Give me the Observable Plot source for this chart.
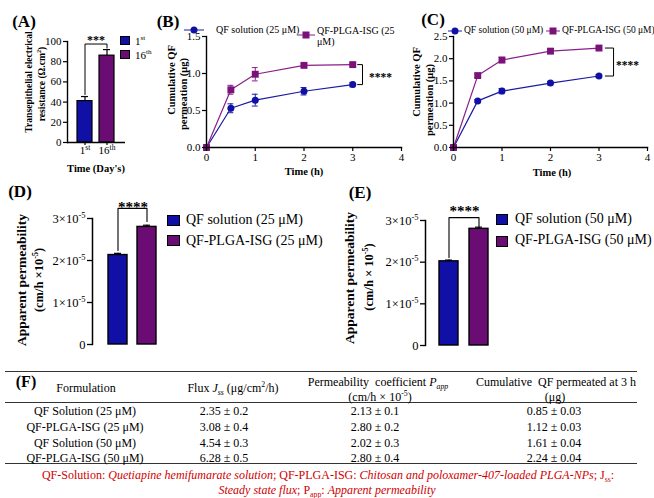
<!DOCTYPE html>
<html><head><meta charset="utf-8">
<script src="https://cdn.jsdelivr.net/npm/d3@7"></script>
<script src="https://cdn.jsdelivr.net/npm/@observablehq/plot@0.6"></script>
<style>
body{margin:0;background:#fff;}
#fig{position:relative;width:654px;height:498px;overflow:hidden;font-family:"Liberation Serif",serif;color:#000;background:#fff;}
.abs{position:absolute;white-space:nowrap;line-height:1;}
.c{transform:translate(-50%,-50%);}
.l{transform:translate(0,-50%);}
.rot{transform:translate(-50%,-50%) rotate(-90deg);}
.plot{position:absolute;}
.hline{position:absolute;height:0;border-top:1.3px solid #333;}
.sw{position:absolute;border:1.4px solid #000;box-sizing:border-box;}
sup,sub{font-size:65%;line-height:0;}
</style></head><body><div id="fig"></div>
<script>
// ---------- DATA ----------
const teerDays = ["1st", "16th"];
const teerValues = [41, 86];
const teerErr = [4.5, 6];

const timeH = [0, 0.5, 1, 2, 3];
const qfSol25 = [0, 0.53, 0.64, 0.76, 0.85];
const qfSol25Err = [0, 0.06, 0.08, 0.05, 0.03];
const qfPlga25 = [0, 0.78, 0.99, 1.11, 1.12];
const qfPlga25Err = [0, 0.06, 0.09, 0.02, 0.02];
const qfSol50 = [0, 1.05, 1.27, 1.45, 1.61];
const qfSol50Err = [0, 0.03, 0.06, 0.04, 0.03];
const qfPlga50 = [0, 1.62, 1.97, 2.17, 2.24];
const qfPlga50Err = [0, 0.04, 0.06, 0.04, 0.03];

const groups25 = ["QF solution (25 μM)", "QF-PLGA-ISG (25 μM)"];
const groups50 = ["QF solution (50 μM)", "QF-PLGA-ISG (50 μM)"];
const papp25 = [2.13e-5, 2.80e-5];
const papp50 = [2.02e-5, 2.80e-5];
const pappErr25 = [0.04e-5, 0.04e-5];
const pappErr50 = [0.03e-5, 0.04e-5];

const formulations = ["QF Solution (25 μM)", "QF-PLGA-ISG (25 μM)", "QF Solution (50 μM)", "QF-PLGA-ISG (50 μM)"];
const fluxJss = ["2.35 ± 0.2", "3.08 ± 0.4", "4.54 ± 0.3", "6.28 ± 0.5"];
const pappCoef = ["2.13 ± 0.1", "2.80 ± 0.2", "2.02 ± 0.3", "2.80 ± 0.4"];
const cumulative3h = ["0.85 ± 0.03", "1.12 ± 0.03", "1.61 ± 0.04", "2.24 ± 0.04"];

// ---------- HELPERS ----------
const BLUE = "#1010a6", PURPLE = "#6a0c74", LBLUE = "#1a1aa4", LPURPLE = "#8a1e8a", SQ = "#7a127a";
const fig = document.getElementById("fig");
function put(html, x, y, cls, style) {
  const d = document.createElement("div");
  d.className = "abs " + (cls || "");
  d.style.left = x + "px"; d.style.top = y + "px";
  if (style) Object.assign(d.style, style);
  d.innerHTML = html; fig.appendChild(d); return d;
}
function box(x, y, w, h, fill) {
  const d = document.createElement("div");
  d.className = "sw";
  Object.assign(d.style, {left: x + "px", top: y + "px", width: w + "px", height: h + "px", background: fill});
  fig.appendChild(d);
}
function hline(x1, x2, y) {
  const d = document.createElement("div");
  d.className = "hline";
  Object.assign(d.style, {left: x1 + "px", top: y + "px", width: (x2 - x1) + "px"});
  fig.appendChild(d);
}
function addPlot(p, x, y) { p.classList.add("plot"); p.style.left = x + "px"; p.style.top = y + "px"; fig.appendChild(p); }
function supify(svg) {
  d3.select(svg).selectAll("text").each(function () {
    const t = this.textContent; const i = t.indexOf("^"); if (i < 0) return;
    this.textContent = t.slice(0, i);
    d3.select(this).append("tspan").attr("baseline-shift", "super").attr("font-size", "0.68em").text(t.slice(i + 1));
  });
}
const baseStyle = {fontFamily: "Liberation Serif, serif", fontSize: "11px", background: "transparent", overflow: "visible", color: "#000"};

// ---------- PANEL A ----------
const teerData = teerDays.map((d, i) => ({day: d, v: teerValues[i], e: teerErr[i]}));
const bracketA = [{day: "1st", y: 47.5}, {day: "1st", y: 97.5}, {day: "16th", y: 97.5}, {day: "16th", y: 93.5}];
const pA = Plot.plot({
  width: 200, height: 180, marginLeft: 67, marginTop: 41, marginBottom: 38, marginRight: 75,
  style: baseStyle,
  x: {domain: teerDays, paddingInner: 0.31, paddingOuter: 0.444, axis: null},
  y: {domain: [0, 100], axis: null},
  color: {domain: teerDays, range: [BLUE, PURPLE]},
  marks: [
    Plot.barY(teerData, {x: "day", y: "v", fill: "day", stroke: "#000", strokeWidth: 1.2}),
    Plot.ruleX(teerData, {x: "day", y1: "v", y2: d => d.v + d.e, strokeWidth: 1.2}),
    Plot.tickY(teerData, {x: "day", y: d => d.v + d.e, insetLeft: 4, insetRight: 4, strokeWidth: 1.2}),
    Plot.line(bracketA, {x: "day", y: "y", strokeWidth: 1}),
    Plot.text([{day: "1st", y: 104}], {x: "day", y: "y", text: () => "***", dx: 11, dy: 3, fontSize: 12, fontWeight: "bold"}),
    Plot.frame({anchor: "left", strokeWidth: 1.4}),
    Plot.ruleY([0], {strokeWidth: 1.4}),
    Plot.axisY({ticks: [0, 20, 40, 60, 80, 100], tickSize: 4, tickPadding: 2, label: null, fontSize: 11, strokeWidth: 1.2}),
    Plot.axisX({tickSize: 3, tickPadding: 1, tickFormat: d => d.replace(/^(\d+)/, "$1^"), label: null, fontSize: 11, strokeWidth: 1.2})
  ]
});
supify(pA);
addPlot(pA, 0, 0);

// ---------- PANELS B, C ----------
function cumPlot(sol, solE, plga, plgaE, ymax, width, marginLeft, marginRight, bx0, bx1, starsX) {
  const s = timeH.map((t, i) => ({t, v: sol[i], e: solE[i]}));
  const p = timeH.map((t, i) => ({t, v: plga[i], e: plgaE[i]}));
  const n = timeH.length - 1;
  const br = [{x: bx0, y: plga[n]}, {x: bx1, y: plga[n]}, {x: bx1, y: sol[n]}, {x: bx0, y: sol[n]}];
  const errs = (data, col) => [
    Plot.ruleX(data.filter(d => d.e > 0), {x: "t", y1: d => d.v - d.e, y2: d => d.v + d.e, stroke: col, strokeWidth: 1}),
    Plot.ruleY(data.filter(d => d.e > 0), {y: d => d.v + d.e, x1: d => d.t - 0.06, x2: d => d.t + 0.06, stroke: col, strokeWidth: 1}),
    Plot.ruleY(data.filter(d => d.e > 0), {y: d => d.v - d.e, x1: d => d.t - 0.06, x2: d => d.t + 0.06, stroke: col, strokeWidth: 1})
  ];
  return Plot.plot({
    width, height: 180, marginLeft, marginRight, marginTop: 36, marginBottom: 33,
    style: baseStyle,
    x: {domain: [0, 4], axis: null},
    y: {domain: [0, ymax], axis: null},
    marks: [
      Plot.line(s, {x: "t", y: "v", stroke: LBLUE, strokeWidth: 1.2}),
      Plot.line(p, {x: "t", y: "v", stroke: LPURPLE, strokeWidth: 1.2}),
      ...errs(s, LBLUE), ...errs(p, LPURPLE),
      Plot.dot(s, {x: "t", y: "v", r: 3.5, fill: BLUE}),
      Plot.dot(p, {x: "t", y: "v", r: 3.9, symbol: "square", fill: SQ}),
      Plot.line(br, {x: "x", y: "y", strokeWidth: 1}),
      Plot.text([{x: starsX, y: (plga[n] + sol[n]) / 2}], {x: "x", y: "y", text: () => "****", fontSize: 11.5, fontWeight: "bold", dy: 3}),
      Plot.frame({anchor: "left", strokeWidth: 1.4}),
      Plot.frame({anchor: "bottom", strokeWidth: 1.4}),
      Plot.axisX({ticks: [0, 1, 2, 3, 4], tickSize: 4, tickPadding: 2, tickFormat: d3.format("d"), label: null, fontSize: 11, strokeWidth: 1.2}),
      Plot.axisY({ticks: d3.range(0, ymax + 1e-9, 0.5), tickSize: 4, tickPadding: 2, tickFormat: d3.format(".1f"), label: null, fontSize: 11, strokeWidth: 1.2})
    ]
  });
}
addPlot(cumPlot(qfSol25, qfSol25Err, qfPlga25, qfPlga25Err, 1.5, 260, 56, 9, 3.1, 3.2, 3.57), 150, 0);
addPlot(cumPlot(qfSol50, qfSol50Err, qfPlga50, qfPlga50Err, 2.5, 254, 53, 7, 3.13, 3.3, 3.59), 400, 0);

// ---------- PANELS D, E ----------
function pappPlot(groups, vals, errs, width, ml, mt, mb, mr, pi, po, brk, starsY) {
  const data = groups.map((g, i) => ({g, v: vals[i], e: errs[i]}));
  const br = [{g: groups[0], y: brk[0]}, {g: groups[0], y: brk[1]}, {g: groups[1], y: brk[1]}, {g: groups[1], y: brk[2]}];
  const step = (width - ml - mr) / (2 - pi + 2 * po);
  const svg = Plot.plot({
    width, height: 180, marginLeft: ml, marginTop: mt, marginBottom: mb, marginRight: mr,
    style: baseStyle,
    x: {domain: groups, paddingInner: pi, paddingOuter: po, axis: null},
    y: {domain: [0, 3e-5], axis: null},
    color: {domain: groups, range: [BLUE, PURPLE]},
    marks: [
      Plot.barY(data, {x: "g", y: "v", fill: "g", stroke: "#000", strokeWidth: 1.4}),
      Plot.ruleX(data, {x: "g", y1: "v", y2: d => d.v + d.e, strokeWidth: 1.2}),
      Plot.tickY(data, {x: "g", y: d => d.v + d.e, insetLeft: 6, insetRight: 6, strokeWidth: 1.2}),
      Plot.line(br, {x: "g", y: "y", strokeWidth: 1.1}),
      Plot.text([{g: groups[0], y: starsY}], {x: "g", y: "y", text: () => "****", dx: step / 2, dy: 4, fontSize: 15, fontWeight: "bold"}),
      Plot.frame({anchor: "left", strokeWidth: 1.5}),
      Plot.axisY({ticks: [0, 1e-5, 2e-5, 3e-5], tickSize: 5, tickPadding: 2, label: null, fontSize: 12.5, strokeWidth: 1.3,
        tickFormat: d => d === 0 ? "0" : `${Math.round(d * 1e5)}×10^-5`})
    ]
  });
  supify(svg);
  return svg;
}
addPlot(pappPlot(groups25, papp25, pappErr25, 180, 92, 38, 16, 8, 1 / 3, 0.5, [2.24e-5, 3.24e-5, 2.93e-5], 3.36e-5), 0, 180);
addPlot(pappPlot(groups50, papp50, pappErr50, 180, 95, 40, 15, 8, 0.355, 0.42, [2.11e-5, 3.07e-5, 2.85e-5], 3.33e-5), 330, 180);

// ---------- TEXT: panel A ----------
put("<b>(A)</b>", 24, 21, "c", {fontSize: "17px"});
put("<b>Transepithelial electrical</b>", 29, 82, "rot", {fontSize: "9.6px"});
put("<b>resistance (Ω.cm<sup>2</sup>)</b>", 42, 84, "rot", {fontSize: "9.6px"});
put("<b>Time (Day's)</b>", 96, 169, "c", {fontSize: "10.5px"});
box(120, 36, 10, 9, BLUE); box(120, 50, 10, 9, PURPLE);
put("1<sup>st</sup>", 135, 41, "l", {fontSize: "11px"});
put("16<sup>th</sup>", 135, 55, "l", {fontSize: "11px"});

// ---------- TEXT: panel B ----------
put("<b>(B)</b>", 168, 21, "c", {fontSize: "17px"});
put("<b>Cumulative QF</b>", 172, 80, "rot", {fontSize: "10.5px"});
put("<b>permeation (μg)</b>", 184, 94, "rot", {fontSize: "10.5px"});
put("<b>Time (h)</b>", 304, 172, "c", {fontSize: "10.5px"});
const glyph = (col, sq, w) => `<svg width="${w}" height="9" style="display:block"><line x1="0" x2="${w}" y1="4.5" y2="4.5" stroke="${col}" stroke-width="1.2"/>` +
  (sq ? `<rect x="${w / 2 - 3.5}" y="1" width="7" height="7" fill="${SQ}"/>` : `<circle cx="${w / 2}" cy="4.5" r="3.5" fill="${BLUE}"/>`) + `</svg>`;
put(glyph(LBLUE, false, 20), 184, 30, "l");
put("QF solution (25 μM)", 216, 30, "l", {fontSize: "10px"});
put(glyph(LPURPLE, true, 18), 297, 35, "l");
put("QF-PLGA-ISG (25<br>μM)", 317, 36, "l", {fontSize: "10px", lineHeight: "11px"});

// ---------- TEXT: panel C ----------
put("<b>(C)</b>", 433, 19, "c", {fontSize: "17px"});
put("<b>Cumulative QF</b>", 417, 82, "rot", {fontSize: "10.5px"});
put("<b>permeation (μg)</b>", 430, 100, "rot", {fontSize: "10.5px"});
put("<b>Time (h)</b>", 552, 173, "c", {fontSize: "10.5px"});
put(glyph(LBLUE, false, 14), 448, 31, "l");
put("QF solution (50 μM)", 464, 31, "l", {fontSize: "9.5px"});
put(glyph(LPURPLE, true, 14), 546, 31, "l");
put("QF-PLGA-ISG (50 μM)", 562, 31, "l", {fontSize: "9.5px"});

// ---------- TEXT: panels D, E ----------
put("<b>(D)</b>", 20, 191, "c", {fontSize: "17px"});
put("<b>Apparent permeability</b>", 22, 280, "rot", {fontSize: "13.5px"});
put("<b>(cm/h ×10<sup>-5</sup>)</b>", 39, 280, "rot", {fontSize: "12.5px"});
box(167, 215, 13, 11, BLUE); box(167, 235, 13, 11, PURPLE);
put(groups25[0], 186, 220, "l", {fontSize: "14px"});
put(groups25[1], 186, 241, "l", {fontSize: "14px"});

put("<b>(E)</b>", 360, 192, "c", {fontSize: "17px"});
put("<b>Apparent permeability</b>", 350, 278, "rot", {fontSize: "13.5px"});
put("<b>(cm/h × 10<sup>-5</sup>)</b>", 369, 277, "rot", {fontSize: "12.5px"});
box(496, 214, 12, 11, BLUE); box(496, 236, 12, 11, PURPLE);
put(groups50[0], 515, 219, "l", {fontSize: "14px"});
put(groups50[1], 515, 240, "l", {fontSize: "14px"});

// ---------- TABLE F ----------
hline(5, 637, 371); hline(5, 637, 402); hline(5, 637, 463);
put("<b>(F)</b>", 26, 382, "c", {fontSize: "16px"});
const ts = {fontSize: "12px"};
put("Formulation", 86, 388, "c", ts);
put("Flux <i>J<sub>ss</sub></i> (μg/cm<sup>2</sup>/h)", 233, 388, "c", ts);
put("Permeability&nbsp; coefficient <i>P<sub>app</sub></i>", 378, 382, "c", ts);
put("(cm/h × 10<sup>-5</sup>)", 380, 396.5, "c", ts);
put("Cumulative&nbsp; QF permeated at 3 h", 556, 382, "c", ts);
put("(μg)", 555, 396.5, "c", ts);
const rowY = [411, 427, 443, 458];
formulations.forEach((f, i) => {
  put(f, 85, rowY[i], "c", ts);
  put(fluxJss[i], 224, rowY[i], "c", ts);
  put(pappCoef[i], 375, rowY[i], "c", ts);
  put(cumulative3h[i], 554, rowY[i], "c", ts);
});
const red = {fontSize: "12px", color: "#d00000"};
put("QF-Solution: <i>Quetiapine hemifumarate solution</i>; QF-PLGA-ISG: <i>Chitosan and poloxamer-407-loaded PLGA-NPs</i>; J<sub>ss</sub>:", 328, 475, "c", red);
put("<i>Steady state flux</i>; P<sub>app</sub>: <i>Apparent permeability</i>", 327, 489.5, "c", red);
</script></body></html>
